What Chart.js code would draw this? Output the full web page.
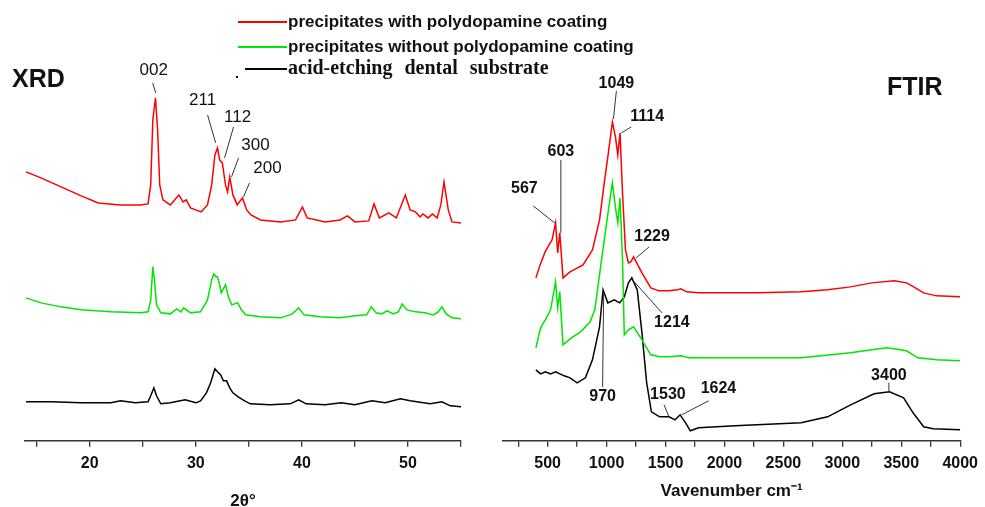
<!DOCTYPE html>
<html>
<head>
<meta charset="utf-8">
<title>XRD / FTIR</title>
<script src="https://cdn.jsdelivr.net/npm/chart.js@4/dist/chart.umd.min.js"></script>
<style>
  body { margin: 0; width: 985px; height: 507px; position: relative; background: #fff; overflow: hidden; font-family: "Liberation Sans", Arial, sans-serif; }
  .box { position: absolute; top: 0; height: 507px; }
  .panelTitle { position: absolute; font-weight: bold; font-size: 25px; line-height: 26px; color: #111; }
  .legLine { position: absolute; height: 0; border-top: 2px solid #000; }
  .legText { position: absolute; line-height: 20px; white-space: nowrap; color: #111; font-weight: bold; }
</style>
</head>
<body>
<div class="box" style="left:0; width:480px;"><canvas id="xrdChart"></canvas></div>
<div class="box" style="left:480px; width:505px;"><canvas id="ftirChart"></canvas></div>

<div class="panelTitle" style="left:12px; top:65px;">XRD</div>
<div class="panelTitle" style="left:887px; top:73px;">FTIR</div>

<!-- 凡例 -->
<div class="legLine" style="left:238px; width:49px; top:21px; border-color:#ff0000;"></div>
<div class="legText" style="left:288px; top:12px; font-size:17px;">precipitates with polydopamine coating</div>
<div class="legLine" style="left:238px; width:49px; top:46px; border-color:#00e600;"></div>
<div class="legText" style="left:288px; top:37px; font-size:17px;">precipitates without polydopamine coating</div>
<div style="position:absolute; left:236px; top:76px; width:2px; height:2px; background:#000;"></div>
<div class="legLine" style="left:245px; width:42px; top:68px; border-color:#000;"></div>
<div class="legText" style="left:288px; top:57px; font-size:20px; font-family:'Liberation Serif','Times New Roman',serif; word-spacing:7px;">acid-etching dental substrate</div>

<script>
// XRD データ [2θ, 強度(オフセット済み, a.u.)]
const xrdRed = [
  [14.0,269],[15.4,263],[17.3,254],[19.2,245],[20.8,238],[22.9,236],[24.8,236],[25.5,237],
  [25.75,256],[25.95,321],[26.2,343],[26.4,311],[26.6,256],[26.9,241],[27.6,236],[28.4,246],
  [28.8,239],[29.1,241],[29.5,233],[30.5,229],[31.1,236],[31.5,256],[31.8,286],[32.05,293],
  [32.25,281],[32.5,278],[32.8,256],[33.0,249],[33.2,264],[33.5,246],[33.9,236],[34.4,243],
  [34.8,231],[35.2,226],[36.1,221],[38.0,219],[39.4,221],[40.05,234],[40.5,223],[42.2,219],
  [43.6,221],[44.3,225],[45.0,219],[46.3,220],[46.8,237],[47.3,223],[48.2,228],[48.9,223],
  [49.75,246],[50.2,231],[50.7,229],[51.15,224],[51.4,227],[51.9,223],[52.3,227],[52.75,223],
  [53.1,236],[53.4,259],[53.8,231],[54.15,219],[55.0,218]
];
const xrdGreen = [
  [14.0,143],[15.4,138],[17.3,134],[19.2,131],[22.0,129],[24.8,128],[25.5,129],[25.75,141],
  [25.95,174],[26.1,161],[26.3,136],[26.7,128],[27.6,127],[28.2,132],[28.6,129],[28.85,133],
  [29.5,128],[30.45,129],[31.1,141],[31.5,161],[31.7,167],[31.9,164],[32.05,164],[32.25,156],
  [32.4,148],[32.8,156],[33.1,143],[33.4,136],[33.65,137],[33.95,138],[34.3,131],[34.7,126],
  [36.1,124],[38.0,123],[39.1,127],[39.7,133],[40.2,126],[41.7,124],[43.6,123],[45.0,125],
  [46.1,126],[46.55,134],[47.0,128],[47.5,127],[48.05,130],[48.6,127],[49.1,129],[49.45,137],
  [49.9,131],[50.7,129],[51.6,128],[52.4,126],[52.85,129],[53.2,134],[53.6,127],[54.15,123],
  [55.0,122]
];
const xrdBlack = [
  [14.0,39],[16.35,39],[19.2,38],[22.0,38],[22.9,40],[24.3,38],[25.5,39],[25.75,45],
  [26.05,53],[26.3,45],[26.7,37],[27.6,38],[29.0,41],[30.0,38],[30.45,40],[31.0,48],
  [31.4,58],[31.8,72],[32.05,69],[32.35,66],[32.6,60],[32.9,60],[33.2,53],[33.5,48],
  [34.0,44],[34.6,40],[35.15,37],[37.0,36],[38.9,37],[39.7,41],[40.4,37],[42.2,36],
  [43.7,38],[45.0,36],[46.6,40],[47.85,38],[49.3,42],[50.2,40],[52.1,37],[53.2,39],
  [54.0,35],[55.0,34]
];

// FTIR データ [波数 cm-1, 透過率(オフセット済み, a.u.)]
const ftirRed = [
  [400,163],[436,176],[478,189],[512,196],[537,201],[567,218],[585,188],[603,208],
  [630,163],[690,169],[800,176],[880,191],[940,221],[980,258],[1015,288],[1049,319],
  [1075,304],[1095,286],[1114,308],[1135,248],[1160,191],[1185,178],[1205,179],[1229,184],
  [1300,168],[1375,153],[1445,150],[1530,150],[1600,151],[1630,152],[1680,149],[1780,148],
  [2285,148],[2650,149],[2875,151],[3070,154],[3250,158],[3440,160],[3545,158],[3605,154],
  [3690,148],[3800,145],[4000,144]
];
const ftirGreen = [
  [400,93],[440,113],[480,121],[525,131],[567,159],[585,133],[603,149],[630,96],
  [700,103],[780,109],[860,119],[900,131],[957,181],[1007,224],[1049,258],[1078,231],
  [1095,218],[1114,243],[1135,181],[1150,106],[1185,111],[1229,114],[1300,101],[1375,86],
  [1450,84],[1530,84],[1630,85],[1700,83],[2280,83],[2650,83],[3070,88],[3250,91],
  [3380,93],[3545,90],[3640,83],[3800,81],[4000,80]
];
const ftirBlack = [
  [400,71],[440,67],[480,69],[525,67],[567,69],[640,65],[690,63],[750,58],
  [820,63],[880,81],[940,114],[970,151],[1010,138],[1065,141],[1110,138],[1150,144],
  [1185,158],[1214,163],[1260,151],[1300,108],[1340,58],[1380,29],[1450,24],[1530,24],
  [1580,21],[1624,26],[1670,18],[1710,10],[1780,13],[2090,15],[2650,18],[2875,24],
  [3070,36],[3270,47],[3400,49],[3520,43],[3600,28],[3690,14],[3770,12],[4000,11]
];

// 目盛り
const xrdTicks = [15, 20, 25, 30, 35, 40, 45, 50, 55];
const ftirTicks = [250, 500, 750, 1000, 1250, 1500, 1750, 2000, 2250, 2500, 2750, 3000, 3250, 3500, 3750, 4000];

// ピークのラベル (文字の位置 at と引き出し線 line はデータ座標)
const xrdPeaks = [
  { text: '002', at: [26.04, 371], line: [25.94, 358, 26.22, 348] },
  { text: '211', at: [30.64, 341], line: [31.11, 326, 31.87, 298] },
  { text: '112', at: [33.94, 324], line: [33.56, 314, 32.71, 283] },
  { text: '300', at: [35.63, 296], line: [34.03, 283, 33.37, 264] },
  { text: '200', at: [36.76, 273], line: [35.06, 258, 34.5, 244] }
];
const ftirPeaks = [
  { text: '1049', at: [1083, 357], line: [1083, 350, 1058, 322] },
  { text: '1114', at: [1344, 324], line: [1209, 314, 1125, 308] },
  { text: '603', at: [612, 289], line: [612, 281, 612, 208] },
  { text: '567', at: [302, 252], line: [377, 235, 570, 217] },
  { text: '1229', at: [1386, 204], line: [1361, 194, 1251, 183] },
  { text: '1214', at: [1554, 118], line: [1470, 128, 1235, 159] },
  { text: '970', at: [966, 44], line: [966, 54, 975, 149] },
  { text: '1530', at: [1520, 46], line: [1487, 36, 1529, 24] },
  { text: '1624', at: [1949, 52], line: [1865, 40, 1638, 26] },
  { text: '3400', at: [3395, 65], line: [3395, 58, 3395, 49] }
];

const RED = '#ff0000';
const GREEN = '#00e600';
const BLACK = '#000000';

// ピーク番号と引き出し線を描くプラグイン
const peakLabelPlugin = {
  id: 'peakLabels',
  afterDatasetsDraw(chart, args, opts) {
    const ctx = chart.ctx;
    const xs = chart.scales.x;
    const ys = chart.scales.y;
    ctx.save();
    ctx.strokeStyle = '#333';
    ctx.lineWidth = 1;
    ctx.fillStyle = '#111';
    ctx.font = opts.font;
    ctx.textAlign = 'center';
    ctx.textBaseline = 'middle';
    (opts.items || []).forEach(p => {
      ctx.beginPath();
      ctx.moveTo(xs.getPixelForValue(p.line[0]), ys.getPixelForValue(p.line[1]));
      ctx.lineTo(xs.getPixelForValue(p.line[2]), ys.getPixelForValue(p.line[3]));
      ctx.stroke();
      ctx.fillText(p.text, xs.getPixelForValue(p.at[0]), ys.getPixelForValue(p.at[1]));
    });
    ctx.restore();
  }
};

function toXY(arr) {
  return arr.map(p => ({ x: p[0], y: p[1] }));
}

function makeDataset(label, arr, color) {
  return {
    label: label,
    data: toXY(arr),
    borderColor: color,
    borderWidth: 1.5,
    pointRadius: 0,
    fill: false,
    tension: 0
  };
}

// グラフの共通設定
function makeChart(canvasId, cfg) {
  const ctx = document.getElementById(canvasId).getContext('2d');
  return new Chart(ctx, {
    type: 'line',
    data: {
      datasets: [
        makeDataset('precipitates with polydopamine coating', cfg.red, RED),
        makeDataset('precipitates without polydopamine coating', cfg.green, GREEN),
        makeDataset('acid-etching dental substrate', cfg.black, BLACK)
      ]
    },
    plugins: [peakLabelPlugin],
    options: {
      responsive: true,
      maintainAspectRatio: false,
      animation: false,
      layout: { padding: cfg.padding },
      plugins: {
        legend: { display: false },
        tooltip: { enabled: false },
        peakLabels: { items: cfg.peaks, font: cfg.peakFont }
      },
      scales: {
        x: {
          type: 'linear',
          min: cfg.min,
          max: cfg.max,
          afterBuildTicks: scale => {
            scale.ticks = cfg.ticks.map(v => ({ value: v }));
          },
          ticks: {
            autoSkip: false,
            maxRotation: 0,
            padding: 7,
            color: '#111',
            font: { family: 'Liberation Sans, Arial, sans-serif', size: 16, weight: 'bold' },
            callback: v => (v % cfg.labelStep === 0 ? String(v) : '')
          },
          grid: {
            drawOnChartArea: false,
            drawTicks: true,
            tickLength: 6,
            color: '#333',
            lineWidth: 1.3
          },
          border: { display: true, color: '#333', width: 1.6 },
          title: {
            display: true,
            text: cfg.title,
            color: '#111',
            font: { family: 'Liberation Sans, Arial, sans-serif', size: 17, weight: 'bold', lineHeight: 1 },
            padding: cfg.titlePadding
          }
        },
        y: {
          display: false,
          min: 0,
          max: 441
        }
      }
    }
  });
}

makeChart('xrdChart', {
  red: xrdRed, green: xrdGreen, black: xrdBlack,
  min: 13.9, max: 55, ticks: xrdTicks, labelStep: 10,
  title: '2θ°',
  titlePadding: { top: 13, bottom: -3 },
  padding: { left: 25, right: 19, top: 0, bottom: 0 },
  peaks: xrdPeaks,
  peakFont: '17px "Liberation Sans", Arial, sans-serif'
});

makeChart('ftirChart', {
  red: ftirRed, green: ftirGreen, black: ftirBlack,
  min: 121, max: 4000, ticks: ftirTicks, labelStep: 500,
  title: 'Vavenumber cm⁻¹',
  titlePadding: { top: 3, bottom: 7 },
  padding: { left: 23, right: 21, top: 0, bottom: 0 },
  peaks: ftirPeaks,
  peakFont: 'bold 16px "Liberation Sans", Arial, sans-serif'
});
</script>
</body>
</html>
